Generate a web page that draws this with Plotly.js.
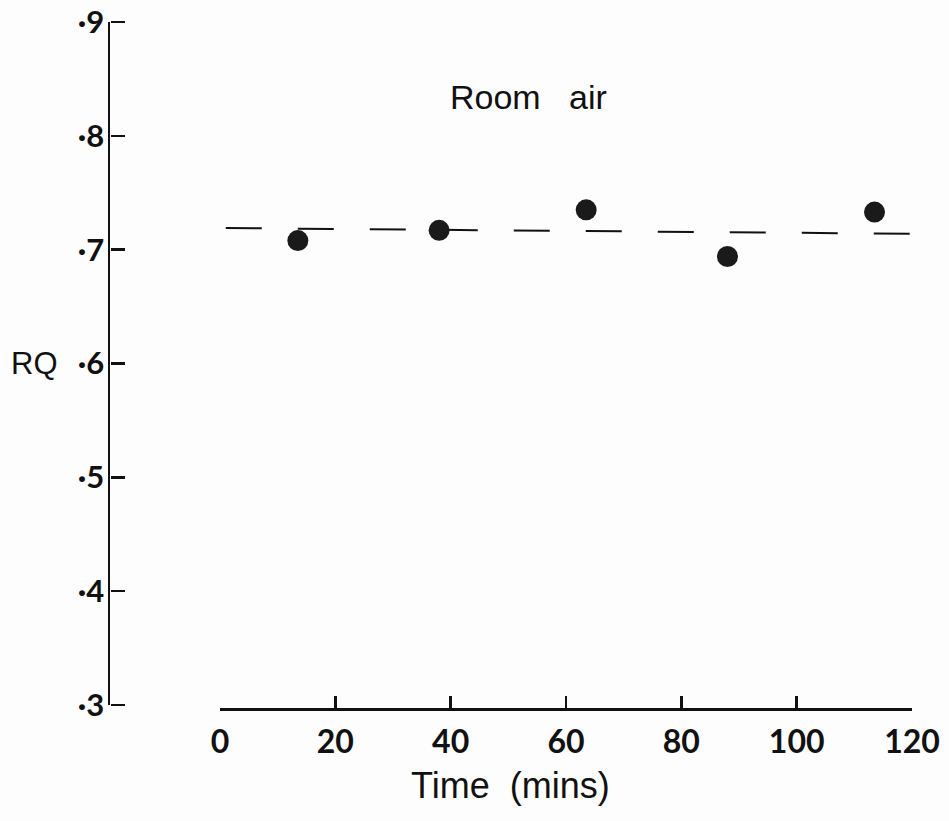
<!DOCTYPE html>
<html>
<head>
<meta charset="utf-8">
<script src="https://cdn.plot.ly/plotly-3.0.1.min.js"></script>
<style>html,body{margin:0;padding:0;background:#fdfdfd;}</style>
</head>
<body>
<div id="chart" style="width:949px;height:821px;"></div>
<script>
// Data
const timeMins = [13.5, 38, 63.5, 88, 113.5];
const rqValues = [0.708, 0.717, 0.735, 0.694, 0.733];
const fitTime = [1, 119.6];
const fitRQ = [0.719, 0.714];
const xTickVals = [0, 20, 40, 60, 80, 100, 120];
const xTickText = ['0', '20', '40', '60', '80', '100', '120'];
const yTickVals = [0.3, 0.4, 0.5, 0.6, 0.7, 0.8, 0.9];
const yTickText = ['·3', '·4', '·5', '·6', '·7', '·8', '·9'];

const W = 949, H = 821;
const mL = 110, mR = 37, mT = 22, mB = 112;
const plotW = W - mL - mR;
const plotH = H - mT - mB;
const xZeroPx = 220, xEndPx = W - mR;
const pxPerUnit = (xEndPx - xZeroPx) / 120;
const xMin = -(xZeroPx - mL) / pxPerUnit;
const yDomain = [4 / plotH, 1];
const yRange = [0.3, 0.9];

const traces = [
  {
    x: fitTime, y: fitRQ, mode: 'lines', type: 'scatter',
    line: {color: '#111', width: 2, dash: '36px,36px'},
    hoverinfo: 'skip', showlegend: false
  },
  {
    x: timeMins, y: rqValues, mode: 'markers', type: 'scatter',
    marker: {color: '#1a1a1a', size: 21, line: {width: 0}},
    showlegend: false
  },
  {
    x: [], y: [], xaxis: 'x2', yaxis: 'y', mode: 'markers', type: 'scatter',
    showlegend: false, hoverinfo: 'skip'
  },
  {
    x: [], y: [], xaxis: 'x', yaxis: 'y2', mode: 'markers', type: 'scatter',
    showlegend: false, hoverinfo: 'skip'
  }
];

const layout = {
  width: W, height: H,
  margin: {l: mL, r: mR, t: mT, b: mB},
  paper_bgcolor: '#fdfdfd', plot_bgcolor: 'rgba(0,0,0,0)',
  showlegend: false,
  font: {family: 'Lato', color: '#111'},
  xaxis: {
    domain: [0, 1],
    range: [xMin, 120],
    showticklabels: false, ticks: '', showline: false,
    showgrid: false, zeroline: false
  },
  xaxis2: {
    domain: [(xZeroPx - mL) / plotW, 1],
    range: [0, 120],
    anchor: 'free', position: 0,
    tickvals: xTickVals, ticktext: xTickText,
    ticks: 'inside', ticklen: 12, tickwidth: 2.5, tickcolor: '#111',
    showline: true, linecolor: '#111', linewidth: 2.5,
    showgrid: false, zeroline: false,
    tickfont: {family: 'Lato', size: 32, weight: 700, color: '#111'},
    ticklabelstandoff: 4
  },
  yaxis: {
    domain: yDomain,
    range: yRange,
    anchor: 'x',
    tickmode: 'array', tickvals: yTickVals, ticktext: yTickText,
    ticks: '',
    showline: true, linecolor: '#111', linewidth: 2.5,
    showgrid: false, zeroline: false,
    tickfont: {family: 'Lato', size: 31, weight: 700, color: '#111'},
    ticklabelstandoff: -3
  },
  yaxis2: {
    overlaying: 'y',
    side: 'right',
    anchor: 'free', position: 0,
    range: yRange,
    tickmode: 'array', tickvals: yTickVals,
    ticks: 'outside', ticklen: 14, tickwidth: 2.5, tickcolor: '#111',
    showticklabels: false, showline: false,
    showgrid: false, zeroline: false
  },
  annotations: [
    {
      text: 'Room\u00a0\u00a0\u00a0air', xref: 'x', yref: 'y', x: 53.5, y: 0.834,
      showarrow: false, xanchor: 'center', yanchor: 'middle',
      font: {family: 'Liberation Sans', size: 34, color: '#111'}
    },
    {
      text: 'RQ', xref: 'paper', yref: 'y', x: -0.094, y: 0.6,
      showarrow: false, xanchor: 'center', yanchor: 'middle',
      font: {family: 'Liberation Sans', size: 31, color: '#111'}
    },
    {
      text: 'Time\u00a0\u00a0(mins)', xref: 'paper', yref: 'paper',
      x: (510 - mL) / plotW, y: -(785 - (mT + plotH)) / plotH,
      showarrow: false, xanchor: 'center', yanchor: 'middle',
      font: {family: 'Liberation Sans', size: 36, color: '#111'}
    }
  ]
};

Plotly.newPlot('chart', traces, layout, {staticPlot: true, displayModeBar: false});
</script>
</body>
</html>
